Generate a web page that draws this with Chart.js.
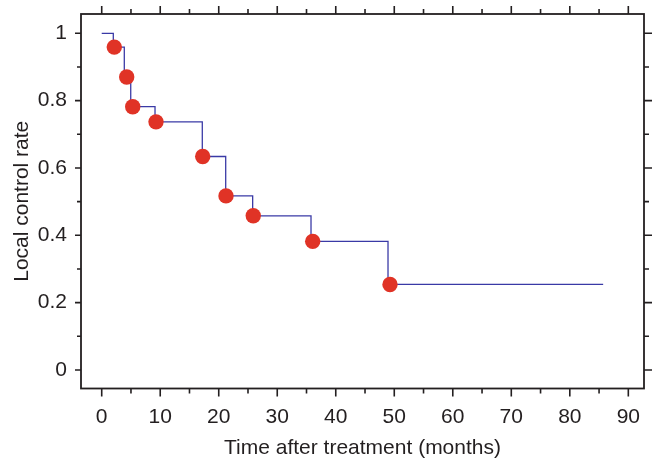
<!DOCTYPE html>
<html>
<head>
<meta charset="utf-8">
<script src="https://cdn.jsdelivr.net/npm/chart.js@4.4.1/dist/chart.umd.min.js"></script>
<style>
  html, body { margin: 0; padding: 0; background: #ffffff; }
  #wrap { width: 652px; height: 461px; position: relative; }
</style>
</head>
<body>
<div id="wrap"><canvas id="c" width="652" height="461"></canvas></div>
<script>
// ---- data ----
const stepTimes   = [0, 1.98, 3.86, 4.96, 9.11, 17.19, 21.19, 25.8, 35.77, 48.93, 85.7];
const stepRates   = [1, 0.959, 0.870, 0.782, 0.737, 0.634, 0.517, 0.458, 0.382, 0.254, 0.254];
const markerTimes = [2.15, 4.27, 5.3, 9.28, 17.26, 21.24, 25.9, 36.06, 49.27];
const markerRates = [0.959, 0.870, 0.782, 0.737, 0.634, 0.517, 0.458, 0.382, 0.254];
const xTickLabels = [0, 10, 20, 30, 40, 50, 60, 70, 80, 90];
const yTickLabels = [0, 0.2, 0.4, 0.6, 0.8, 1];
const xMinorTicks = [5, 15, 25, 35, 45, 55, 65, 75, 85];
const yMinorTicks = [0.1, 0.3, 0.5, 0.7, 0.9];
const xTitle = 'Time after treatment (months)';
const yTitle = 'Local control rate';

const FONT = '"Liberation Sans", Arial, Helvetica, sans-serif';
const INK = '#231f20';

const framePlugin = {
  id: 'frameTicks',
  afterDraw(chart) {
    const ctx = chart.ctx;
    const a = chart.chartArea;
    const xs = chart.scales.x, ys = chart.scales.y;
    ctx.save();
    ctx.strokeStyle = INK;
    ctx.lineWidth = 1.8;
    ctx.strokeRect(a.left, a.top, a.right - a.left, a.bottom - a.top);
    ctx.lineWidth = 1.6;
    ctx.beginPath();
    const tick = (x1, y1, x2, y2) => { ctx.moveTo(x1, y1); ctx.lineTo(x2, y2); };
    xTickLabels.forEach(v => {
      const p = xs.getPixelForValue(v);
      tick(p, a.bottom, p, a.bottom + 8);
      tick(p, a.top, p, a.top - 8);
    });
    xMinorTicks.forEach(v => {
      const p = xs.getPixelForValue(v);
      tick(p, a.bottom, p, a.bottom + 5);
      tick(p, a.top, p, a.top - 5);
    });
    yTickLabels.forEach(v => {
      const p = ys.getPixelForValue(v);
      tick(a.left, p, a.left - 6, p);
      tick(a.right, p, a.right + 8, p);
    });
    yMinorTicks.forEach(v => {
      const p = ys.getPixelForValue(v);
      tick(a.left, p, a.left - 4, p);
      tick(a.right, p, a.right + 5, p);
    });
    ctx.stroke();
    ctx.restore();
  }
};

new Chart(document.getElementById('c'), {
  type: 'scatter',
  data: {
    datasets: [
      {
        label: 'markers',
        data: markerTimes.map((t, i) => ({ x: t, y: markerRates[i] })),
        pointRadius: 7.7,
        pointBackgroundColor: '#e03326',
        pointBorderWidth: 0,
        showLine: false,
        order: 0
      },
      {
        label: 'curve',
        data: stepTimes.map((t, i) => ({ x: t, y: stepRates[i] })),
        showLine: true,
        stepped: 'before',
        borderColor: '#3a3aa6',
        borderWidth: 1.3,
        pointRadius: 0,
        fill: false,
        order: 1
      }
    ]
  },
  options: {
    responsive: false,
    animation: false,
    events: [],
    layout: { padding: { left: 0, top: 14, right: 8, bottom: 0 } },
    plugins: { legend: { display: false }, tooltip: { enabled: false } },
    scales: {
      x: {
        type: 'linear',
        min: -3.54,
        max: 92.68,
        afterBuildTicks: s => { s.ticks = xTickLabels.map(v => ({ value: v })); },
        afterFit: s => { s.height = 72.5; s.paddingLeft = 0; s.paddingRight = 0; },
        grid: { display: false, drawTicks: false },
        border: { display: false },
        ticks: { color: INK, font: { family: FONT, size: 21 }, padding: 16, maxRotation: 0, autoSkip: false },
        title: { display: true, text: xTitle, color: INK, font: { family: FONT, size: 21 }, padding: { top: 0, bottom: 0 } }
      },
      y: {
        type: 'linear',
        min: -0.055,
        max: 1.0573,
        afterBuildTicks: s => { s.ticks = yTickLabels.map(v => ({ value: v })); },
        afterFit: s => { s.width = 81; s.paddingTop = 0; s.paddingBottom = 0; },
        grid: { display: false, drawTicks: false },
        border: { display: false },
        ticks: { color: INK, font: { family: FONT, size: 21 }, padding: 14, autoSkip: false,
                 callback: v => String(v) },
        title: { display: true, text: yTitle, color: INK, font: { family: FONT, size: 21 }, padding: { top: 10, bottom: 0 } }
      }
    }
  },
  plugins: [framePlugin]
});
</script>
</body>
</html>
